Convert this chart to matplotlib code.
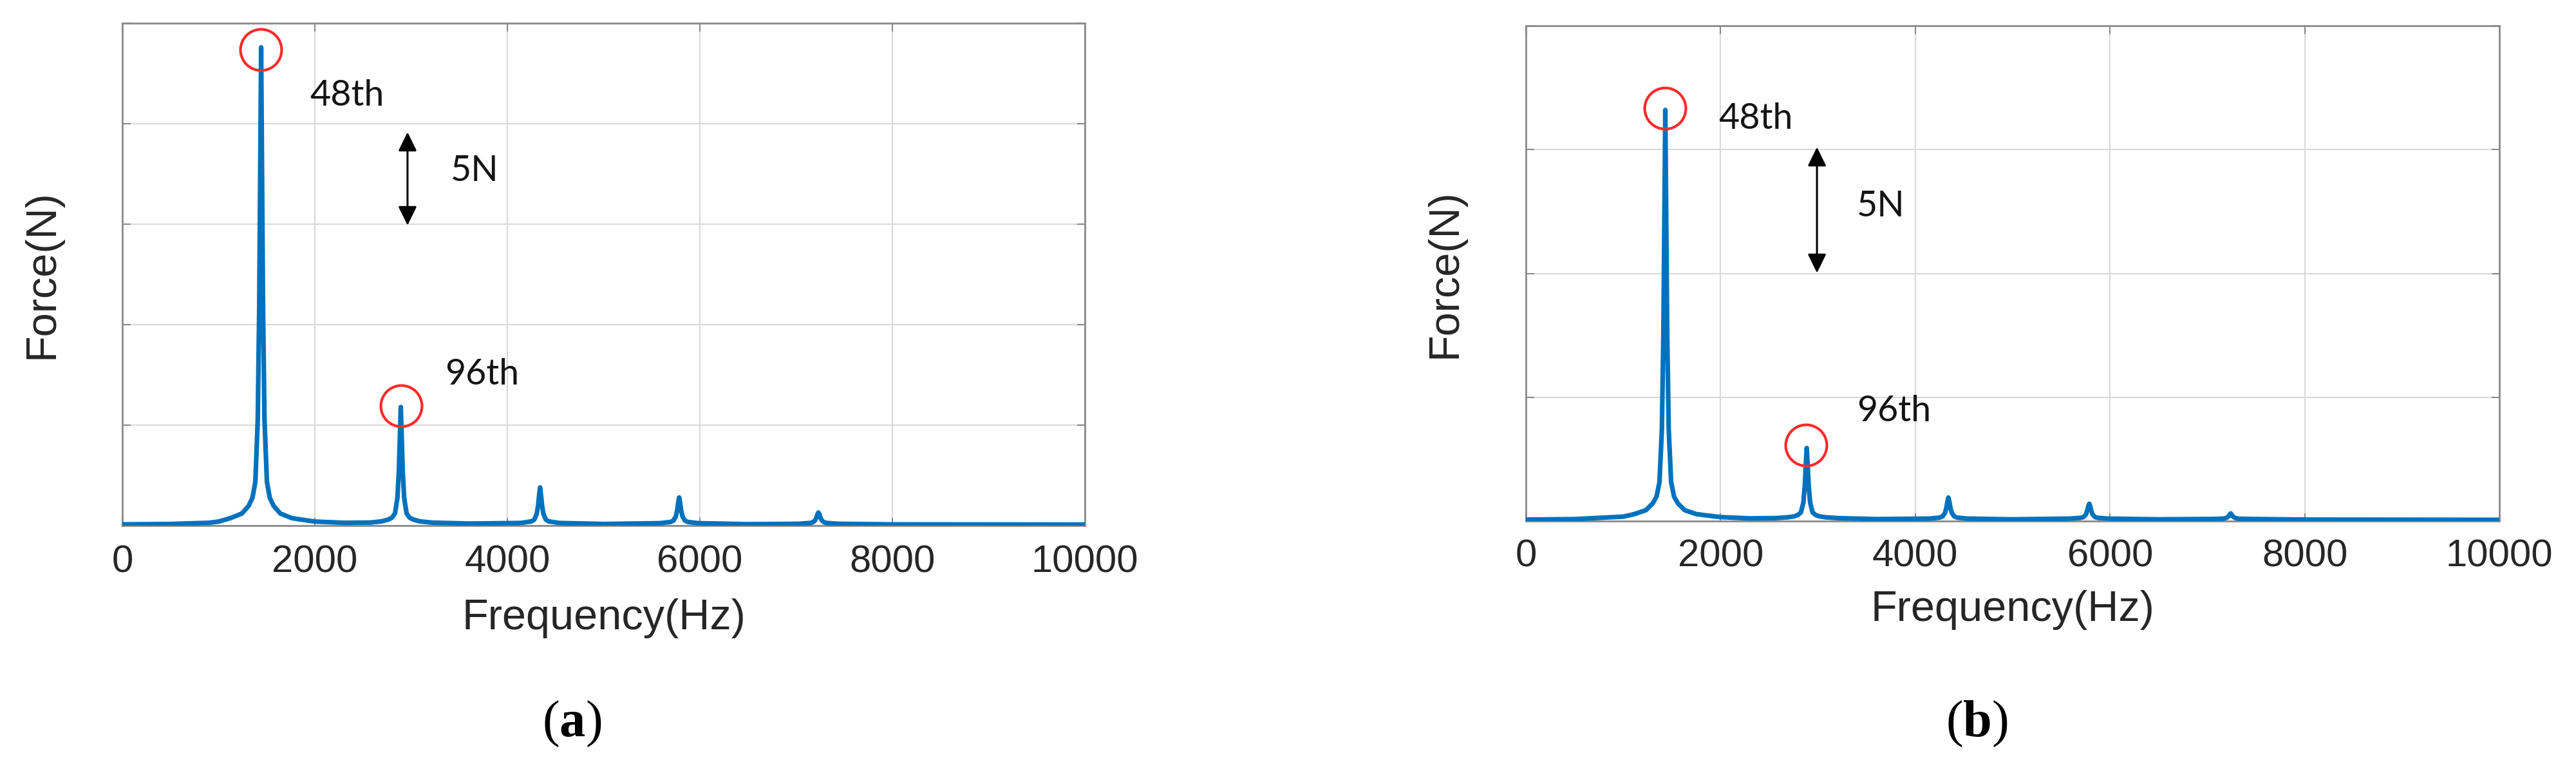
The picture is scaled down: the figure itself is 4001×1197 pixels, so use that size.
import matplotlib
matplotlib.use('Agg')
import matplotlib.pyplot as plt

plt.rcParams['mathtext.fontset'] = 'custom'
plt.rcParams['mathtext.rm'] = 'Liberation Serif'
plt.rcParams['mathtext.bf'] = 'Liberation Serif:bold'

# ---- data (Hz, N) ----
# panel (a)
freq_a = [0, 500, 900, 1000,
          1122, 1242, 1312, 1352, 1382, 1407, 1422, 1432, 1442, 1452, 1462, 1477, 1502, 1532, 1572, 1642, 1762,
          2000, 2300,
          2573, 2693, 2763, 2803, 2833, 2858, 2873, 2883, 2893, 2903, 2913, 2928, 2953, 2983, 3023, 3093, 3213,
          3600,
          4140, 4250, 4280, 4305, 4320, 4330, 4340, 4350, 4360, 4375, 4400, 4430, 4540,
          5000,
          5585, 5695, 5725, 5750, 5765, 5775, 5785, 5795, 5805, 5820, 5845, 5875, 5985,
          6500,
          7032, 7142, 7172, 7197, 7212, 7222, 7232, 7242, 7252, 7267, 7292, 7322, 7432,
          8000, 10000]
force_a = [0.06, 0.08, 0.14, 0.20,
           0.37, 0.60, 0.98, 1.38, 2.18, 5.28, 10.78, 17.18, 23.8, 17.18, 10.78, 5.28, 2.18, 1.38, 0.98, 0.60, 0.37,
           0.20, 0.14,
           0.15, 0.21, 0.30, 0.40, 0.61, 1.38, 2.73, 4.33, 5.9, 4.33, 2.73, 1.38, 0.61, 0.40, 0.30, 0.21, 0.15,
           0.10,
           0.13, 0.21, 0.30, 0.58, 1.02, 1.50, 1.9, 1.50, 1.02, 0.58, 0.30, 0.21, 0.13,
           0.08,
           0.12, 0.18, 0.25, 0.45, 0.78, 1.13, 1.4, 1.13, 0.78, 0.45, 0.25, 0.18, 0.12,
           0.07,
           0.09, 0.13, 0.16, 0.26, 0.41, 0.57, 0.65, 0.57, 0.41, 0.26, 0.16, 0.13, 0.09,
           0.06, 0.05]

# panel (b)
freq_b = [0, 500, 1000,
          1112, 1232, 1302, 1342, 1372, 1397, 1412, 1422, 1432, 1442, 1452, 1467, 1492, 1522, 1562, 1632, 1752,
          2000, 2300,
          2565, 2685, 2755, 2795, 2825, 2850, 2865, 2875, 2885, 2895, 2905, 2920, 2945, 2975, 3015, 3085, 3205,
          3600,
          4140, 4250, 4280, 4305, 4320, 4330, 4340, 4350, 4360, 4375, 4400, 4430, 4540,
          5000,
          5587, 5697, 5727, 5752, 5767, 5777, 5787, 5797, 5807, 5822, 5847, 5877, 5987,
          6500,
          7040, 7150, 7180, 7205, 7220, 7230, 7240, 7250, 7260, 7275, 7300, 7330, 7440,
          8000, 10000]
force_b = [0.06, 0.08, 0.18,
           0.28, 0.44, 0.71, 0.99, 1.57, 3.71, 7.51, 11.96, 16.6, 11.96, 7.51, 3.71, 1.57, 0.99, 0.71, 0.44, 0.28,
           0.16, 0.11,
           0.12, 0.15, 0.19, 0.25, 0.35, 0.74, 1.43, 2.24, 2.95, 2.24, 1.43, 0.74, 0.35, 0.25, 0.19, 0.15, 0.12,
           0.08,
           0.10, 0.14, 0.19, 0.33, 0.55, 0.79, 0.95, 0.79, 0.55, 0.33, 0.19, 0.14, 0.10,
           0.07,
           0.10, 0.13, 0.16, 0.26, 0.43, 0.60, 0.70, 0.60, 0.43, 0.26, 0.16, 0.13, 0.10,
           0.07,
           0.085, 0.095, 0.11, 0.15, 0.20, 0.26, 0.31, 0.26, 0.20, 0.15, 0.11, 0.095, 0.085,
           0.06, 0.05]

# marked harmonics (red circles)
mark_freq_a = [1441, 2897]
mark_force_a = [23.7, 5.96]
mark_freq_b = [1429, 2874]
mark_force_b = [16.68, 3.08]

xticks = [0, 2000, 4000, 6000, 8000, 10000]
yticks_a = [0, 5, 10, 15, 20, 25]
yticks_b = [0, 5, 10, 15, 20]

W, H = 4001, 1197
BLUE = '#0072BD'
TXT = '#262626'

fig = plt.figure(figsize=(W / 100, H / 100), dpi=100)
fig.patch.set_facecolor('white')

ax_a = fig.add_axes([190 / W, 1 - 816 / H, 1495 / W, 780 / H])
ax_b = fig.add_axes([2370 / W, 1 - 809 / H, 1512 / W, 769 / H])


def style_axes(ax, yticks, ymax, pad):
    ax.set_xlim(0, 10000)
    ax.set_ylim(0, ymax)
    ax.set_xticks(xticks)
    ax.set_yticks(yticks)
    ax.set_yticklabels([])
    ax.grid(True, color='#d9d9d9', linewidth=1.5)
    ax.set_axisbelow(True)
    for s in ax.spines.values():
        s.set_color('#8a8a8a')
        s.set_linewidth(2)
    ax.tick_params(direction='in', length=9, width=1.5, color='#8a8a8a',
                   top=True, right=True, pad=pad)
    ax.tick_params(axis='x', labelsize=43, labelcolor=TXT)
    for lab in ax.get_xticklabels():
        lab.set_fontfamily('Liberation Sans')


style_axes(ax_a, yticks_a, 25, 21)
style_axes(ax_b, yticks_b, 20, 19.5)

ax_a.plot(freq_a, force_a, color=BLUE, lw=5.2, solid_joinstyle='round', zorder=3)
ax_b.plot(freq_b, force_b, color=BLUE, lw=5.2, solid_joinstyle='round', zorder=3)

for ax, mf, mv in [(ax_a, mark_freq_a, mark_force_a), (ax_b, mark_freq_b, mark_force_b)]:
    ax.plot(mf, mv, 'o', ms=46, mfc='none', mec='#ff2a2a', mew=3, zorder=4, clip_on=False)

# labels
for ax, ly, lx in [(ax_a, -0.1846, -0.0836), (ax_b, -0.180, -0.0827)]:
    ax.set_xlabel('Frequency(Hz)', fontsize=48, family='Liberation Sans', color=TXT, va='center')
    ax.xaxis.set_label_coords(0.5, ly)
    ax.set_ylabel('Force(N)', fontsize=48, family='Liberation Sans', color=TXT, va='center')
    ax.yaxis.set_label_coords(lx, 0.5)

# annotations
ann = dict(fontsize=40, family='Lato', color='#141414', va='baseline', ha='left')
ax_a.text(1946, 20.9, '48th', **ann)
ax_a.text(3411, 17.15, '5N', **ann)
ax_a.text(3351, 7.02, '96th', **ann)
ax_b.text(1978, 15.84, '48th', **ann)
ax_b.text(3400, 12.3, '5N', **ann)
ax_b.text(3400, 4.03, '96th', **ann)

arrow = dict(arrowstyle='<|-|>,head_length=0.45,head_width=0.22', color='black',
             lw=2.2, mutation_scale=40, shrinkA=0, shrinkB=0)
ax_a.annotate('', xy=(2963, 19.58), xytext=(2963, 14.94), arrowprops=arrow)
ax_b.annotate('', xy=(2990, 15.1), xytext=(2990, 10.02), arrowprops=arrow)

# sub captions
fig.text(888 / W, 1 - 1123 / H, r'$\mathrm{(}\mathbf{a}\mathrm{)}$', fontsize=58,
         ha='center', va='center')
fig.text(3070 / W, 1 - 1123 / H, r'$\mathrm{(}\mathbf{b}\mathrm{)}$', fontsize=58,
         ha='center', va='center')

fig.savefig('out.png', dpi=100, facecolor='white')
